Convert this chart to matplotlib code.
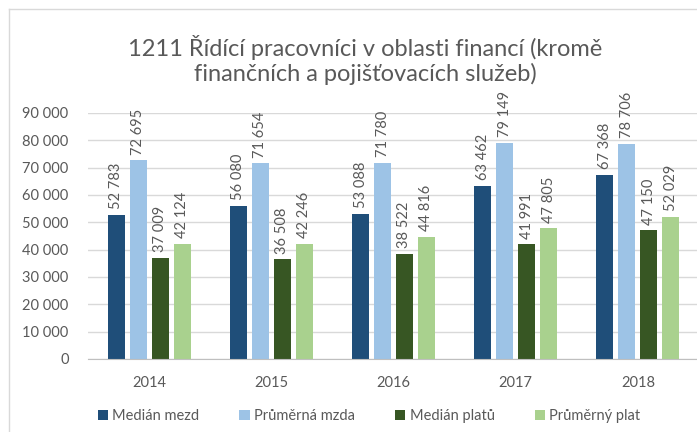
import matplotlib
matplotlib.use("Agg")
import matplotlib.pyplot as plt
import numpy as np
from matplotlib.patches import Patch
from matplotlib.lines import Line2D

years = ["2014", "2015", "2016", "2017", "2018"]
series_names = ["Medián mezd", "Průměrná mzda", "Medián platů", "Průměrný plat"]
median_mezd = [52783, 56080, 53088, 63462, 67368]
prumerna_mzda = [72695, 71654, 71780, 79149, 78706]
median_platu = [37009, 36508, 38522, 41991, 47150]
prumerny_plat = [42124, 42246, 44816, 47805, 52029]
colors = ["#1F4E79", "#9DC3E6", "#375623", "#A9D18E"]
title = "1211 Řídící pracovníci v oblasti financí (kromě\nfinančních a pojišťovacích služeb)"

plt.rcParams['font.family'] = ['Lato', 'DejaVu Sans']
gray = "#595959"

fig = plt.figure(figsize=(6.97, 4.32), dpi=100)
ax = fig.add_axes([88/697, 1-359/432, (699-88)/697, (359-113)/432])

x = np.arange(len(years))
w = 0.139
step = 0.18
data = [median_mezd, prumerna_mzda, median_platu, prumerny_plat]
for i, (vals, c, name) in enumerate(zip(data, colors, series_names)):
    pos = x + (i - 1.5) * step
    ax.bar(pos, vals, width=w, color=c, zorder=3, label=name)
    for p, v in zip(pos, vals):
        ax.annotate(f"{v:,}".replace(",", " "), (p, v), xytext=(0, 4),
                    textcoords="offset points", rotation=90, ha="center",
                    va="bottom", fontsize=10.5, color=gray)

ax.set_xlim(-0.5, len(years) - 0.5)
ax.set_ylim(0, 90000)
ax.set_yticks(np.arange(0, 90001, 10000))
ax.set_yticklabels([f"{v:,}".replace(",", " ") for v in range(0, 90001, 10000)])
ax.set_xticks(x)
ax.set_xticklabels(years)
ax.tick_params(axis="both", length=0, labelsize=10.5, colors=gray)
ax.tick_params(axis="y", pad=14)
ax.tick_params(axis="x", pad=12)
ax.grid(axis="y", color="#D9D9D9", linewidth=1, zorder=0)
for s in ["top", "right", "left"]:
    ax.spines[s].set_visible(False)
ax.spines["bottom"].set_color("#BFBFBF")
ax.spines["bottom"].set_zorder(4)

fig.text(0.524, 1-60/432, title, ha="center", va="center", fontsize=17,
         color=gray, linespacing=1.15)

handles = [Patch(facecolor=c, edgecolor="none") for c in colors]
fig.legend(handles, series_names, loc="center", bbox_to_anchor=(369/697, 1-416/432),
           ncol=4, frameon=False, fontsize=10.5, handlelength=0.7, handleheight=0.7,
           handletextpad=0.3, columnspacing=2.75, labelcolor=gray)

fig.add_artist(Line2D([9/697, 1], [1-9/432, 1-9/432], color="#D9D9D9", lw=1,
                      transform=fig.transFigure))
fig.add_artist(Line2D([9/697, 9/697], [0, 1-9/432], color="#D9D9D9", lw=1,
                      transform=fig.transFigure))

fig.savefig("out.png", dpi=100)
